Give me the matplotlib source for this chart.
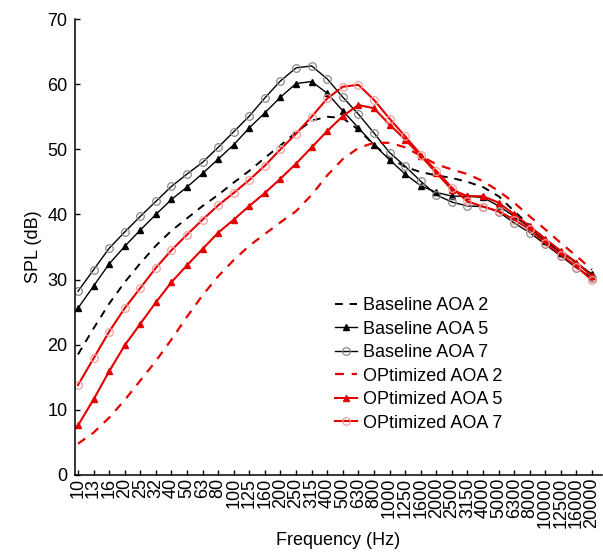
import matplotlib
matplotlib.use("Agg")
import matplotlib.pyplot as plt
import numpy as np

plt.rcParams['font.family'] = ['Liberation Sans', 'DejaVu Sans']

# 1/3-octave band centre frequencies (Hz)
freqs = ['10', '13', '16', '20', '25', '32', '40', '50', '63', '80', '100', '125',
         '160', '200', '250', '315', '400', '500', '630', '800', '1000', '1250',
         '1600', '2000', '2500', '3150', '4000', '5000', '6300', '8000', '10000',
         '12500', '16000', '20000']

# SPL values (dB)
baseline_aoa2 = [18.5, 22.5, 26.3, 29.6, 32.5, 35.2, 37.5, 39.4, 41.3, 43.0, 44.9, 46.7,
                 48.7, 50.6, 52.6, 54.4, 55.0, 54.8, 53.0, 50.7, 48.7, 47.3, 46.5, 46.0,
                 45.6, 45.0, 44.2, 42.8, 40.5, 38.3, 36.2, 34.3, 32.5, 30.7]
baseline_aoa5 = [25.6, 29.0, 32.4, 35.1, 37.6, 40.0, 42.3, 44.2, 46.3, 48.5, 50.7, 53.3,
                 55.6, 58.0, 60.1, 60.4, 58.6, 55.9, 53.3, 50.7, 48.4, 46.2, 44.4, 43.4,
                 42.8, 42.8, 42.6, 41.3, 39.7, 38.0, 35.9, 34.1, 32.6, 30.8]
baseline_aoa7 = [28.2, 31.5, 34.8, 37.3, 39.7, 42.0, 44.3, 46.2, 48.0, 50.3, 52.7, 55.1,
                 57.9, 60.5, 62.5, 62.8, 60.8, 58.0, 55.4, 52.5, 49.5, 47.4, 45.1, 43.0,
                 41.9, 41.3, 41.2, 40.4, 38.7, 37.2, 35.4, 33.6, 31.8, 30.3]
optimized_aoa2 = [4.8, 6.5, 8.8, 11.5, 14.5, 17.5, 20.8, 24.3, 27.6, 30.5, 33.0, 35.2,
                  37.0, 38.8, 40.5, 43.0, 46.0, 48.5, 50.2, 51.0, 51.0, 50.3, 49.0, 47.7,
                  46.9, 46.2, 45.1, 43.6, 41.8, 39.7, 37.7, 35.6, 33.6, 31.5]
optimized_aoa5 = [7.6, 11.6, 15.9, 19.9, 23.2, 26.5, 29.6, 32.2, 34.7, 37.2, 39.2, 41.3,
                  43.3, 45.5, 47.8, 50.3, 52.8, 55.1, 56.8, 56.3, 53.8, 51.5, 49.0, 46.4,
                  43.8, 42.8, 42.8, 41.8, 40.0, 38.2, 36.2, 34.4, 32.6, 30.5]
optimized_aoa7 = [13.8, 17.9, 22.0, 25.6, 28.7, 31.8, 34.5, 36.9, 39.2, 41.4, 43.3, 45.3,
                  47.5, 50.0, 52.4, 55.0, 57.8, 59.6, 59.9, 57.6, 54.7, 52.0, 49.2, 46.7,
                  44.1, 42.0, 41.2, 40.5, 39.2, 37.7, 35.6, 33.8, 32.0, 29.9]

red = '#e40000'
x = np.arange(len(freqs))

fig = plt.figure(figsize=(6.03, 5.56), dpi=100)
ax = fig.add_axes([0.1244, 0.1457, 0.874, 0.8201])

ax.plot(x, baseline_aoa2, color='black', lw=1.4, ls=(0, (4, 3.5)), label='Baseline AOA 2')
ax.plot(x, baseline_aoa5, color='black', lw=1.0, marker='^', ms=4.5,
        mfc='black', mec='black', label='Baseline AOA 5')
ax.plot(x, baseline_aoa7, color='black', lw=1.0, marker='o', ms=5.5,
        mfc='none', mec='#8a8a8a', mew=0.9, label='Baseline AOA 7')
ax.plot(x, optimized_aoa2, color=red, lw=1.6, ls=(0, (4, 3.5)), label='OPtimized AOA 2')
ax.plot(x, optimized_aoa5, color=red, lw=1.5, marker='^', ms=4.5,
        mfc=red, mec=red, label='OPtimized AOA 5')
ax.plot(x, optimized_aoa7, color=red, lw=1.5, marker='o', ms=5.5,
        mfc='none', mec='#f2a0a0', mew=0.9, label='OPtimized AOA 7')

ax.set_xlim(-0.19, 33.64)
ax.set_ylim(0, 70)
ax.set_xticks(x)
ax.set_xticklabels(freqs, rotation=90, fontsize=13)
ax.set_yticks(np.arange(0, 71, 10))
ax.tick_params(axis='y', labelsize=13, pad=5.5)
ax.tick_params(axis='x', pad=2)
ax.tick_params(direction='in', length=3.5, width=1.0)

for side in ['top', 'right']:
    ax.spines[side].set_visible(False)
for side in ['left', 'bottom']:
    ax.spines[side].set_linewidth(1.1)

ax.set_xlabel('Frequency (Hz)', fontsize=13, labelpad=3)
ax.set_ylabel('SPL (dB)', fontsize=13, labelpad=4)

ax.legend(loc='upper left', bbox_to_anchor=(0.493, 0.39), frameon=False,
          fontsize=13, handlelength=1.25, handletextpad=0.33, labelspacing=0.36,
          borderaxespad=0, borderpad=0)

fig.savefig('out.png', dpi=100)
